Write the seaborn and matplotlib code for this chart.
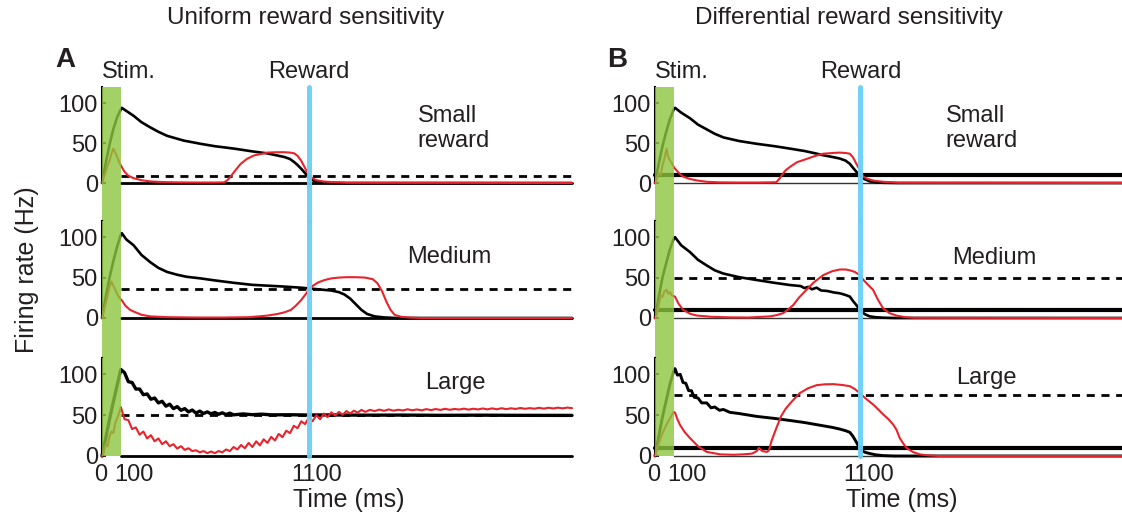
import numpy as np
import pandas as pd
import matplotlib
matplotlib.use("Agg")
import matplotlib.pyplot as plt
import seaborn as sns
from matplotlib.transforms import ScaledTranslation, blended_transform_factory

# ---------------- data ----------------
T_MAX = 2500
STIM = (0, 100)
REWARD_T = 1100
Y_TICKS = [0, 50, 100]
X_TICKS = [0, 100, 1100]
X_TICK_LABELS = ["0", "100", "1100"]
COLUMN_TITLES = ["Uniform reward sensitivity", "Differential reward sensitivity"]
PANEL_LETTERS = ["A", "B"]
ROW_LABELS = ["Small\nreward", "Medium", "Large"]

# --- A: uniform reward sensitivity ---
A_small_black = [(0, 0), (20, 25), (40, 48), (60, 67), (80, 82), (100, 92), (105, 94), (130, 90), (168, 84),
                 (210, 76), (257, 69.5), (300, 64), (346, 59), (390, 56), (435, 53), (480, 51), (524, 49),
                 (600, 46), (702, 43), (800, 39.5), (880, 37), (930, 34.5), (970, 32.5), (1000, 30),
                 (1023, 26), (1040, 22.5), (1059, 18), (1078, 13), (1095, 8), (1112, 4.5), (1130, 2.5),
                 (1160, 1), (1200, 0.3), (1300, 0), (2500, 0)]
A_small_red = [(0, 0), (10, 8), (20, 14), (30, 22), (40, 28), (50, 36), (60, 43), (70, 38), (80, 33), (90, 27),
               (100, 22), (105, 20), (120, 14), (140, 9), (168, 6), (210, 3.5), (257, 2), (320, 1.2), (400, 0.8),
               (500, 0.6), (600, 0.6), (649, 0.8), (665, 3), (684, 8), (710, 16), (738, 24), (770, 30),
               (809, 34.5), (850, 36.5), (880, 38), (930, 38.5), (970, 38.5), (1000, 38), (1023, 37),
               (1040, 34), (1059, 28), (1075, 21), (1086, 16), (1100, 11), (1112, 7), (1140, 3.5),
               (1180, 1.8), (1235, 1), (1300, 0.3), (2500, 0)]
A_small_goal = 9

A_medium_black = [(0, 0), (20, 26), (40, 50), (60, 70), (80, 88), (100, 103), (105, 105), (130, 97), (168, 90),
                  (210, 78), (257, 69), (300, 62), (346, 57), (400, 53.5), (450, 51), (524, 49), (600, 46.5),
                  (702, 43.5), (800, 41), (880, 40), (960, 39), (1059, 37.5), (1150, 35.5), (1219, 34),
                  (1260, 32), (1290, 29), (1320, 24), (1350, 17), (1380, 10), (1410, 5), (1450, 2),
                  (1500, 0.7), (1560, 0), (2500, 0)]
A_medium_red = [(0, 0), (10, 10), (20, 18), (30, 28), (40, 38), (50, 45), (60, 40), (70, 35), (80, 30), (90, 26),
                (100, 23), (105, 22), (125, 15), (150, 10), (168, 8), (210, 4), (257, 2), (350, 1), (500, 0.6),
                (650, 0.6), (780, 1), (834, 2), (880, 3), (934, 5), (970, 7), (1005, 10), (1030, 15),
                (1059, 22), (1085, 30), (1112, 38.5), (1150, 44), (1184, 47), (1220, 49), (1260, 50),
                (1300, 50.5), (1350, 50.5), (1400, 50), (1440, 48), (1465, 43), (1490, 33), (1513, 20),
                (1535, 10), (1556, 4), (1590, 1.5), (1640, 0.5), (1700, 0), (2500, 0)]
A_medium_goal = 36

A_large_black_rise = [(0, 0), (20, 22), (40, 45), (60, 66), (80, 86), (100, 106)]
A_large_black_osc_t0, A_large_black_osc_dt = 120, 20
A_large_black_osc = [102, 91, 90, 82, 82, 75, 76, 69.5, 71, 65,
                     67, 61, 63.5, 58, 60.5, 56, 58, 54, 56.3, 52.5,
                     55, 52, 54, 51.6, 53.3, 51.1, 52.9, 50.7, 52.5, 50.4]
A_large_black_tail = [(750, 51.5), (800, 50.6), (850, 51.2), (900, 50.4), (1000, 50.5), (1100, 50.2),
                      (1200, 50.3), (1400, 50), (1600, 50.1), (1800, 49.8), (2000, 50), (2200, 49.8), (2500, 49.7)]
A_large_red_rise = [(0, 0), (10, 6), (20, 14), (30, 12), (40, 24), (50, 30), (60, 28), (70, 40), (80, 46),
                    (90, 52), (100, 60)]
A_large_red_osc_t0, A_large_red_osc_dt = 120, 20
A_large_red_osc = [45, 44, 33, 35, 26, 30, 21.5, 25.5, 18, 21.5,
                   14.5, 18, 12, 14.5, 9, 12, 7.5, 9.5, 6, 7,
                   4.5, 6, 3.5, 5.5, 3.5, 6, 4.5, 8, 6, 11,
                   8, 13.5, 9.5, 16, 11, 18, 13, 20.5, 16, 23.5,
                   19, 27, 23, 31, 28, 37, 34, 42.5, 39, 47,
                   42.5, 50, 45, 52, 47.5, 53.5, 49.5, 54, 50.5, 55,
                   52, 55.5, 53, 56.5, 54]
A_large_red_tail_t0, A_large_red_tail_dt = 1425, 25
A_large_red_tail = [56.5, 55, 56.8, 55.3, 57, 55.5, 56.6, 55.8, 57.2, 56,
                    57, 55.9, 57.4, 56.2, 57.5, 56.4, 57.8, 56.6, 57.6, 56.9,
                    58, 56.8, 57.9, 57, 58.2, 57.1, 58.3, 57.2, 58.5, 57.4,
                    58.4, 57.6, 58.8, 57.8, 58.6, 57.9, 59, 58, 59.1, 58.2,
                    59.2, 58.3, 59.3, 58.6]
A_large_goal = 50

# --- B: differential reward sensitivity ---
B_baseline = 10
B_small_black = [(0, 0), (20, 24), (40, 46), (60, 64), (80, 80), (100, 92), (107, 94), (140, 88), (187, 81),
                 (230, 73), (277, 67), (320, 61.5), (366, 57), (450, 52.5), (544, 49), (640, 46), (722, 43),
                 (800, 40), (860, 37), (900, 34.7), (950, 32.5), (989, 30.6), (1020, 28), (1043, 24),
                 (1060, 19), (1078, 14), (1092, 10.5), (1104, 8), (1120, 5), (1150, 2), (1180, 1),
                 (1220, 0.3), (1300, 0), (2500, 0)]
B_small_red = [(0, 0), (10, 6), (20, 12), (30, 10), (40, 22), (50, 30), (62, 43), (70, 33), (80, 28), (90, 25),
               (100, 20), (107, 18), (130, 12), (150, 8), (187, 5), (230, 3), (277, 1.5), (350, 0.8), (450, 0.6),
               (550, 0.6), (650, 1), (668, 6), (686, 12), (700, 16), (722, 20), (760, 26), (811, 30),
               (860, 34), (900, 36.6), (950, 37.5), (989, 38), (1020, 37.5), (1043, 36.6), (1060, 32),
               (1078, 24), (1090, 19), (1104, 14), (1114, 8), (1140, 5), (1170, 3), (1221, 1.5),
               (1300, 0.3), (2500, 0)]

B_medium_black = [(0, 0), (20, 26), (40, 50), (60, 68), (80, 85), (100, 98), (107, 100), (140, 90), (187, 81.6),
                  (230, 72), (277, 65), (320, 59), (366, 55), (450, 50.5), (544, 47), (640, 43.5), (722, 40.8),
                  (780, 39.5), (800, 37), (820, 38.5), (840, 35.5), (865, 37.5), (890, 34), (920, 33.5),
                  (960, 31.5), (989, 30.6), (1020, 28.5), (1043, 26.5), (1060, 21), (1078, 16), (1092, 11.5),
                  (1104, 8), (1125, 4.5), (1150, 2), (1180, 1), (1220, 0.4), (1280, 0), (2500, 0)]
B_medium_red = [(0, 0), (10, 5), (20, 15), (30, 28), (40, 26), (50, 33), (62, 35), (70, 30), (80, 32), (90, 28),
                (100, 27), (107, 26.5), (125, 18), (151, 10), (190, 5), (225, 3), (300, 1.5), (400, 0.8),
                (500, 0.6), (615, 2), (650, 3.5), (686, 6), (710, 10), (740, 16), (770, 25), (811, 35),
                (850, 44), (900, 53), (950, 58), (989, 60), (1020, 60), (1043, 59), (1070, 57), (1096, 53),
                (1120, 46), (1145, 40), (1167, 35), (1195, 22), (1221, 12), (1255, 6), (1293, 3),
                (1340, 1), (1390, 0.3), (2500, 0)]
B_medium_goal = 50

B_large_black = [(0, 0), (20, 24), (40, 48), (60, 68), (80, 88), (100, 104), (107, 107), (120, 99), (135, 100),
                 (150, 90), (165, 89), (180, 80), (195, 80), (210, 72), (230, 71), (250, 65), (277, 65),
                 (300, 59), (320, 60), (345, 56), (366, 57), (400, 53.5), (450, 52), (544, 48.5), (640, 46),
                 (722, 43.5), (800, 41), (900, 37), (950, 35), (989, 33), (1020, 31), (1043, 29), (1060, 24),
                 (1078, 17), (1092, 11), (1104, 7), (1125, 4.5), (1150, 3), (1180, 1.5), (1220, 0.5),
                 (1280, 0), (2500, 0)]
B_large_red = [(0, 0), (10, 10), (20, 14), (30, 22), (40, 28), (50, 33), (60, 38), (70, 42), (80, 46), (90, 50),
               (100, 54), (107, 53), (120, 45), (134, 38), (160, 29), (187, 22), (230, 12), (277, 5), (350, 2),
               (420, 1.5), (470, 2), (500, 2.5), (520, 3), (545, 6), (556, 10), (575, 6), (600, 5), (610, 7),
               (624, 18.6), (651, 35), (677, 49.6), (700, 58), (722, 64), (750, 71), (775, 77), (820, 83),
               (865, 86.7), (910, 87.8), (954, 88), (1000, 87), (1043, 85.5), (1070, 82), (1096, 77),
               (1130, 70), (1168, 63), (1195, 57), (1221, 51), (1250, 45), (1275, 38.5), (1293, 32),
               (1310, 22), (1330, 15), (1346, 10), (1380, 5), (1417, 2), (1460, 0.8), (1520, 0), (2500, 0)]
B_large_goal = 75


def grid_series(t0, dt, vals):
    return [(t0 + i * dt, v) for i, v in enumerate(vals)]


A_large_black = (A_large_black_rise + grid_series(A_large_black_osc_t0, A_large_black_osc_dt, A_large_black_osc)
                 + A_large_black_tail)
A_large_red = (A_large_red_rise + grid_series(A_large_red_osc_t0, A_large_red_osc_dt, A_large_red_osc)
               + grid_series(A_large_red_tail_t0, A_large_red_tail_dt, A_large_red_tail))

panels = {
    (0, 0): dict(black=A_small_black, red=A_small_red, goal=A_small_goal, blw=1.9),
    (0, 1): dict(black=A_medium_black, red=A_medium_red, goal=A_medium_goal, blw=1.9),
    (0, 2): dict(black=A_large_black, red=A_large_red, goal=A_large_goal, blw=2.4),
    (1, 0): dict(black=B_small_black, red=B_small_red, goal=None, blw=1.9),
    (1, 1): dict(black=B_medium_black, red=B_medium_red, goal=B_medium_goal, blw=1.9),
    (1, 2): dict(black=B_large_black, red=B_large_red, goal=B_large_goal, blw=2.1),
}

# ---------------- styling / layout ----------------
sns.set_theme(style="white")
plt.rcParams['font.family'] = ['Liberation Sans', 'DejaVu Sans']
plt.rcParams['font.size'] = 17

W, H = 1122, 515
fig = plt.figure(figsize=(W / 100, H / 100), dpi=100)

col_px = [(102, 572), (655, 1122)]
row_px = [(87, 183), (221, 318), (358, 456)]

RED = "#e8232b"
BLACK = "#000000"
GREEN = "#8dc63f"
BLUE = "#6dcff6"
TEXT = "#231f20"

label_pos = {  # (x in ms, y in Hz, ha)
    (0, 0): (1680, 68, "left"), (0, 1): (1846, 76, "center"), (0, 2): (1878, 90, "center"),
    (1, 0): (1556, 68, "left"), (1, 1): (1818, 74, "center"), (1, 2): (1775, 96, "center"),
}

for c in range(2):
    for r in range(3):
        x0, x1 = col_px[c]
        y0, y1 = row_px[r]
        ax = fig.add_axes([x0 / W, 1 - y1 / H, (x1 - x0) / W, (y1 - y0) / H])
        ax.set_facecolor("none")
        p = panels[(c, r)]
        black = pd.DataFrame(p["black"], columns=["t", "rate"])
        red = pd.DataFrame(p["red"], columns=["t", "rate"])

        # reference lines
        if c == 0:
            ax.plot([STIM[1], T_MAX], [0, 0], color=BLACK, lw=2.0, clip_on=False, zorder=2)
        else:
            ax.plot([STIM[1], T_MAX], [0, 0], color="#333333", lw=1.0, clip_on=False, zorder=2)
            ax.plot([0, T_MAX], [B_baseline, B_baseline], color=BLACK, lw=3.0, clip_on=False, zorder=2)
        if p["goal"] is not None:
            ax.plot([STIM[1], T_MAX], [p["goal"], p["goal"]], color=BLACK, lw=2.0,
                    dashes=(2.9, 2.4), clip_on=False, zorder=2)

        sns.lineplot(data=black, x="t", y="rate", ax=ax, color=BLACK, lw=p["blw"], estimator=None,
                     sort=False, legend=False, clip_on=False, zorder=3)
        sns.lineplot(data=red, x="t", y="rate", ax=ax, color=RED, lw=1.5, estimator=None,
                     sort=False, legend=False, clip_on=False, zorder=4)

        # stimulus band and reward marker, bridging the gaps between rows
        if r < 2:
            gap = (row_px[r + 1][0] - y1) / (y1 - y0)
        else:
            gap = 0
        ax.axvspan(STIM[0], STIM[1], ymin=-gap, ymax=1, color=GREEN, alpha=0.8, lw=0,
                   clip_on=False, zorder=6)
        ax.axvline(REWARD_T, ymin=-gap, ymax=1, color=BLUE, lw=3.6, alpha=0.95,
                   clip_on=False, zorder=7)

        ax.set_xlim(0, T_MAX)
        ax.set_ylim(0, 120)
        ax.set_xlabel("")
        ax.set_ylabel("")
        for s in ["top", "right", "bottom"]:
            ax.spines[s].set_visible(False)
        ax.spines["left"].set_color(BLACK)
        ax.spines["left"].set_linewidth(1.5)
        ax.set_yticks(Y_TICKS)
        ax.tick_params(axis="y", direction="in", length=3, width=1.2, colors=BLACK,
                       labelsize=17, pad=3, left=True)
        ax.tick_params(axis="y", labelcolor=TEXT)
        ax.set_xticks(X_TICKS)
        if r == 2:
            ax.set_xticklabels(X_TICK_LABELS)
            ax.tick_params(axis="x", length=0, labelsize=17, pad=6, labelcolor=TEXT)
            shifts = [-1, 13, 8]
            for lab, dx in zip(ax.get_xticklabels(), shifts):
                lab.set_transform(lab.get_transform() + ScaledTranslation(dx / 100, 0, fig.dpi_scale_trans))
        else:
            ax.set_xticklabels([])
            ax.tick_params(axis="x", length=0)

        lx, ly, ha = label_pos[(c, r)]
        ax.text(lx, ly, ROW_LABELS[r], ha=ha, va="center", fontsize=17, color=TEXT,
                linespacing=1.2)

        if r == 0:
            trans = blended_transform_factory(ax.transData, ax.transAxes)
            ty = (y1 - 72) / (y1 - y0)
            ax.text(STIM[0], ty, "Stim.", transform=trans, ha="left", va="center", fontsize=17,
                    color=TEXT)
            ax.text(REWARD_T, ty, "Reward", transform=trans, ha="center", va="center", fontsize=17,
                    color=TEXT)

# column titles, letters, axis labels
fig.text(306 / W, 1 - 18 / H, COLUMN_TITLES[0], ha="center", va="center", fontsize=17.5, color=TEXT)
fig.text(849 / W, 1 - 18 / H, COLUMN_TITLES[1], ha="center", va="center", fontsize=17.5, color=TEXT)
fig.text(65 / W, 1 - 60 / H, PANEL_LETTERS[0], ha="center", va="center", fontsize=20, weight="bold",
         color=TEXT)
fig.text(617 / W, 1 - 60 / H, PANEL_LETTERS[1], ha="center", va="center", fontsize=20, weight="bold",
         color=TEXT)
fig.text(27 / W, 1 - 270 / H, "Firing rate (Hz)", rotation=90, ha="center", va="center", fontsize=18,
         color=TEXT)
fig.text(349 / W, 1 - 500 / H, "Time (ms)", ha="center", va="center", fontsize=18, color=TEXT)
fig.text(902 / W, 1 - 500 / H, "Time (ms)", ha="center", va="center", fontsize=18, color=TEXT)

fig.savefig("out.png", dpi=100, facecolor="white")
